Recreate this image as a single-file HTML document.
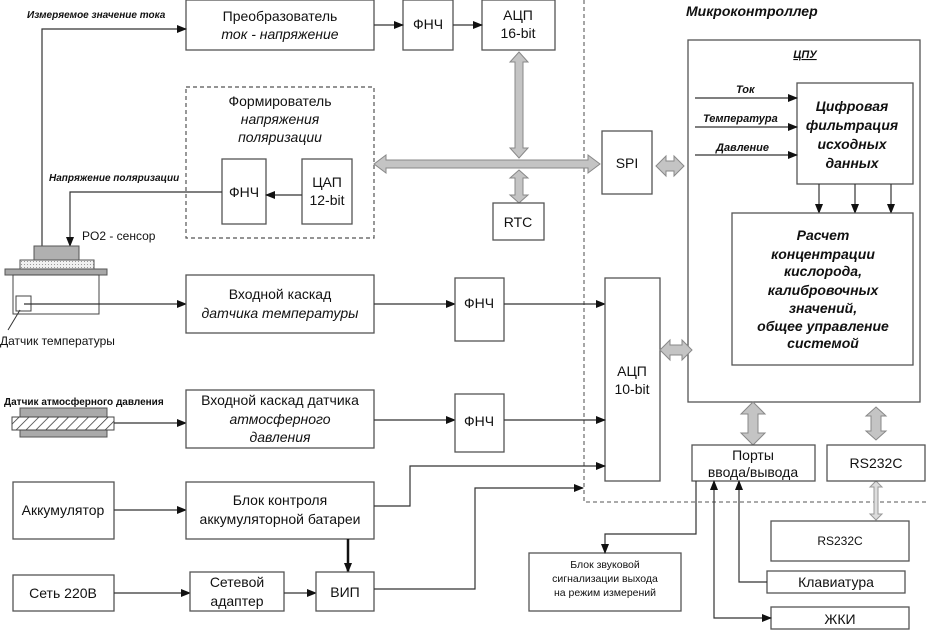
<!DOCTYPE html>
<html><head><meta charset="utf-8"><style>
html,body{margin:0;padding:0;background:#fff;}
svg{display:block;font-family:"Liberation Sans","DejaVu Sans",sans-serif;}
.b{fill:#fff;stroke:#555;stroke-width:1.3}
.l{stroke:#333;stroke-width:1.2;fill:none}
.t{font-size:14px;fill:#111;text-anchor:middle}
.i{font-style:italic}
.s{font-size:10px;font-weight:bold;font-style:italic;fill:#111}
.s2{font-size:11px;font-weight:bold;font-style:italic;fill:#111}
.bi{font-size:14px;font-weight:bold;font-style:italic;fill:#111;text-anchor:middle}
.ga{fill:#c4c4c4;stroke:#888;stroke-width:1}
</style></head><body>
<svg width="926" height="630" viewBox="0 0 926 630">
<defs>
<marker id="a" markerWidth="10" markerHeight="8" refX="9" refY="4" orient="auto" markerUnits="userSpaceOnUse"><path d="M0,0 L10,4 L0,8z" fill="#111"/></marker>
<pattern id="h" width="7" height="7" patternUnits="userSpaceOnUse" patternTransform="rotate(45)"><rect width="7" height="7" fill="#fff"/><line x1="0" y1="0" x2="0" y2="7" stroke="#333" stroke-width="1.5"/></pattern>
<pattern id="d" width="3" height="3" patternUnits="userSpaceOnUse"><rect width="3" height="3" fill="#f0f0f0"/><rect width="1" height="1" fill="#999"/></pattern>
</defs>

<path d="M584,0 V502 H926" stroke="#777" stroke-width="1.3" stroke-dasharray="4,3" fill="none"/>
<text x="686" y="16" style="font-size:14px;font-weight:bold;font-style:italic" fill="#111">Микроконтроллер</text>

<rect class="b" x="186" y="0" width="188" height="50"/>
<text class="t" x="280" y="21">Преобразователь</text>
<text class="t i" x="280" y="39">ток - напряжение</text>
<rect class="b" x="403" y="0" width="50" height="50"/>
<text class="t" x="428" y="29">ФНЧ</text>
<rect class="b" x="482" y="0" width="73" height="50"/>
<text class="t" x="518" y="20">АЦП</text>
<text class="t" x="518" y="38">16-bit</text>
<line class="l" x1="374" y1="25" x2="403" y2="25" marker-end="url(#a)"/>
<line class="l" x1="453" y1="25" x2="482" y2="25" marker-end="url(#a)"/>

<polyline class="l" points="42,246 42,29 186,29" marker-end="url(#a)"/>
<text class="s" x="27" y="18">Измеряемое значение тока</text>

<rect x="186" y="87" width="188" height="151" fill="none" stroke="#555" stroke-width="1.2" stroke-dasharray="4,3"/>
<text class="t" x="280" y="106">Формирователь</text>
<text class="t i" x="280" y="124">напряжения</text>
<text class="t i" x="280" y="142">поляризации</text>
<rect class="b" x="222" y="159" width="44" height="65"/>
<text class="t" x="244" y="197">ФНЧ</text>
<rect class="b" x="302" y="159" width="50" height="65"/>
<text class="t" x="327" y="187">ЦАП</text>
<text class="t" x="327" y="205">12-bit</text>
<line class="l" x1="302" y1="195" x2="266" y2="195" marker-end="url(#a)"/>
<polyline class="l" points="222,192 70,192 70,246" marker-end="url(#a)"/>
<text class="s" x="49" y="181">Напряжение поляризации</text>
<text x="82" y="240" style="font-size:12px" fill="#111">PO2 - сенсор</text>

<rect x="34" y="246" width="45" height="14" fill="#b0b0b0" stroke="#555"/>
<rect x="20" y="260" width="74" height="9" fill="url(#d)" stroke="#555"/>
<rect x="5" y="269" width="102" height="6" fill="#a8a8a8" stroke="#555"/>
<rect x="13" y="275" width="86" height="39" fill="#fff" stroke="#444"/>
<rect x="16" y="296" width="15" height="15" fill="#fff" stroke="#444"/>
<line class="l" x1="24" y1="304" x2="186" y2="304" marker-end="url(#a)"/>
<line x1="20" y1="310" x2="8" y2="330" stroke="#333"/>
<text x="0" y="345" style="font-size:12px" fill="#111">Датчик температуры</text>

<path class="ga" d="M374,164 L386,155 L386,160 L588,160 L588,155 L600,164 L588,173 L588,168 L386,168 L386,173 Z"/>
<path class="ga" d="M519,52 L528,62 L523,62 L523,148 L528,148 L519,158 L510,148 L515,148 L515,62 L510,62 Z"/>
<path class="ga" d="M519,170 L528,178 L523,178 L523,195 L528,195 L519,203 L510,195 L515,195 L515,178 L510,178 Z"/>
<rect class="b" x="493" y="203" width="51" height="37"/>
<text class="t" x="518" y="227">RTC</text>
<rect class="b" x="602" y="131" width="50" height="63"/>
<text class="t" x="627" y="168">SPI</text>
<path class="ga" d="M656,166 L666,156 L666,161 L674,161 L674,156 L684,166 L674,176 L674,171 L666,171 L666,176 Z"/>

<rect class="b" x="688" y="40" width="232" height="362"/>
<text x="805" y="58" style="font-size:11px;font-weight:bold;font-style:italic;text-decoration:underline" fill="#111" text-anchor="middle">ЦПУ</text>
<rect class="b" x="797" y="83" width="116" height="101"/>
<text class="bi" x="852" y="111">Цифровая</text>
<text class="bi" x="852" y="130">фильтрация</text>
<text class="bi" x="852" y="149">исходных</text>
<text class="bi" x="852" y="168">данных</text>
<line class="l" x1="695" y1="98" x2="797" y2="98" marker-end="url(#a)"/>
<line class="l" x1="695" y1="127" x2="797" y2="127" marker-end="url(#a)"/>
<line class="l" x1="695" y1="155" x2="797" y2="155" marker-end="url(#a)"/>
<text class="s2" x="736" y="93">Ток</text>
<text class="s2" x="703" y="122">Температура</text>
<text class="s2" x="716" y="151">Давление</text>
<line class="l" x1="819" y1="184" x2="819" y2="213" marker-end="url(#a)"/>
<line class="l" x1="855" y1="184" x2="855" y2="213" marker-end="url(#a)"/>
<line class="l" x1="891" y1="184" x2="891" y2="213" marker-end="url(#a)"/>
<rect class="b" x="732" y="213" width="181" height="152"/>
<text class="bi" x="823" y="240">Расчет</text>
<text class="bi" x="823" y="259">концентрации</text>
<text class="bi" x="823" y="276">кислорода,</text>
<text class="bi" x="823" y="295">калибровочных</text>
<text class="bi" x="823" y="313">значений,</text>
<text class="bi" x="823" y="331">общее управление</text>
<text class="bi" x="823" y="348">системой</text>

<rect class="b" x="186" y="275" width="188" height="58"/>
<text class="t" x="280" y="299">Входной каскад</text>
<text class="t i" x="280" y="318">датчика температуры</text>
<line class="l" x1="374" y1="304" x2="455" y2="304" marker-end="url(#a)"/>
<rect class="b" x="455" y="278" width="49" height="63"/>
<text class="t" x="479" y="308">ФНЧ</text>
<line class="l" x1="504" y1="304" x2="605" y2="304" marker-end="url(#a)"/>

<rect class="b" x="605" y="278" width="55" height="203"/>
<text class="t" x="632" y="376">АЦП</text>
<text class="t" x="632" y="394">10-bit</text>
<path class="ga" d="M660,350 L670,340 L670,345 L682,345 L682,340 L692,350 L682,360 L682,355 L670,355 L670,360 Z"/>

<text x="4" y="405" style="font-size:10px;font-weight:bold" fill="#111">Датчик атмосферного давления</text>
<rect x="20" y="408" width="87" height="29" fill="#aaa" stroke="#555"/>
<rect x="12" y="417" width="102" height="13" fill="url(#h)" stroke="#444"/>
<line class="l" x1="114" y1="423" x2="186" y2="423" marker-end="url(#a)"/>
<rect class="b" x="186" y="390" width="188" height="58"/>
<text class="t" x="280" y="405">Входной каскад датчика</text>
<text class="t i" x="280" y="424">атмосферного</text>
<text class="t i" x="280" y="442">давления</text>
<line class="l" x1="374" y1="420" x2="455" y2="420" marker-end="url(#a)"/>
<rect class="b" x="455" y="394" width="49" height="58"/>
<text class="t" x="479" y="426">ФНЧ</text>
<line class="l" x1="504" y1="420" x2="605" y2="420" marker-end="url(#a)"/>

<rect class="b" x="13" y="482" width="101" height="57"/>
<text class="t" x="63" y="515">Аккумулятор</text>
<line class="l" x1="114" y1="510" x2="186" y2="510" marker-end="url(#a)"/>
<rect class="b" x="186" y="482" width="188" height="57"/>
<text class="t" x="280" y="505">Блок контроля</text>
<text class="t" x="280" y="524">аккумуляторной батареи</text>
<polyline class="l" points="374,506 410,506 410,466 605,466" marker-end="url(#a)"/>
<line x1="348" y1="539" x2="348" y2="572" stroke="#111" stroke-width="2.5" marker-end="url(#a)"/>

<rect class="b" x="13" y="575" width="101" height="36"/>
<text class="t" x="63" y="598">Сеть 220В</text>
<line class="l" x1="114" y1="593" x2="190" y2="593" marker-end="url(#a)"/>
<rect class="b" x="190" y="572" width="94" height="39"/>
<text class="t" x="237" y="587">Сетевой</text>
<text class="t" x="237" y="606">адаптер</text>
<line class="l" x1="284" y1="593" x2="316" y2="593" marker-end="url(#a)"/>
<rect class="b" x="316" y="572" width="58" height="39"/>
<text class="t" x="345" y="597">ВИП</text>
<polyline class="l" points="374,589 475,589 475,488 583,488" marker-end="url(#a)"/>

<path class="ga" d="M753,402 L765,414 L758,414 L758,433 L765,433 L753,445 L741,433 L748,433 L748,414 L741,414 Z"/>
<path class="ga" d="M876,407 L886,416 L881,416 L881,431 L886,431 L876,440 L866,431 L871,431 L871,416 L866,416 Z"/>
<path d="M876,481 L882,487 L878,487 L878,514 L882,514 L876,520 L870,514 L874,514 L874,487 L870,487 Z" fill="#ddd" stroke="#999"/>
<rect class="b" x="692" y="445" width="123" height="36"/>
<text class="t" x="753" y="460">Порты</text>
<text class="t" x="753" y="477">ввода/вывода</text>
<rect class="b" x="827" y="445" width="98" height="36"/>
<text class="t" x="876" y="468">RS232C</text>
<rect class="b" x="771" y="521" width="138" height="40"/>
<text x="840" y="545" style="font-size:12px" fill="#111" text-anchor="middle">RS232C</text>
<rect class="b" x="767" y="571" width="138" height="22"/>
<text class="t" x="836" y="587">Клавиатура</text>
<rect class="b" x="771" y="607" width="138" height="22"/>
<text class="t" x="840" y="624">ЖКИ</text>
<rect class="b" x="529" y="553" width="152" height="58"/>
<text x="605" y="568" style="font-size:10.5px" fill="#111" text-anchor="middle">Блок звуковой</text>
<text x="605" y="582" style="font-size:10.5px" fill="#111" text-anchor="middle">сигнализации выхода</text>
<text x="605" y="596" style="font-size:10.5px" fill="#111" text-anchor="middle">на режим измерений</text>
<polyline class="l" points="696,481 696,534 605,534 605,553" marker-end="url(#a)"/>
<polyline class="l" points="767,582 739,582 739,481" marker-end="url(#a)"/>
<line class="l" x1="714" y1="520" x2="714" y2="481" marker-end="url(#a)"/>
<polyline class="l" points="714,520 714,618 771,618" marker-end="url(#a)"/>
</svg>
</body></html>
